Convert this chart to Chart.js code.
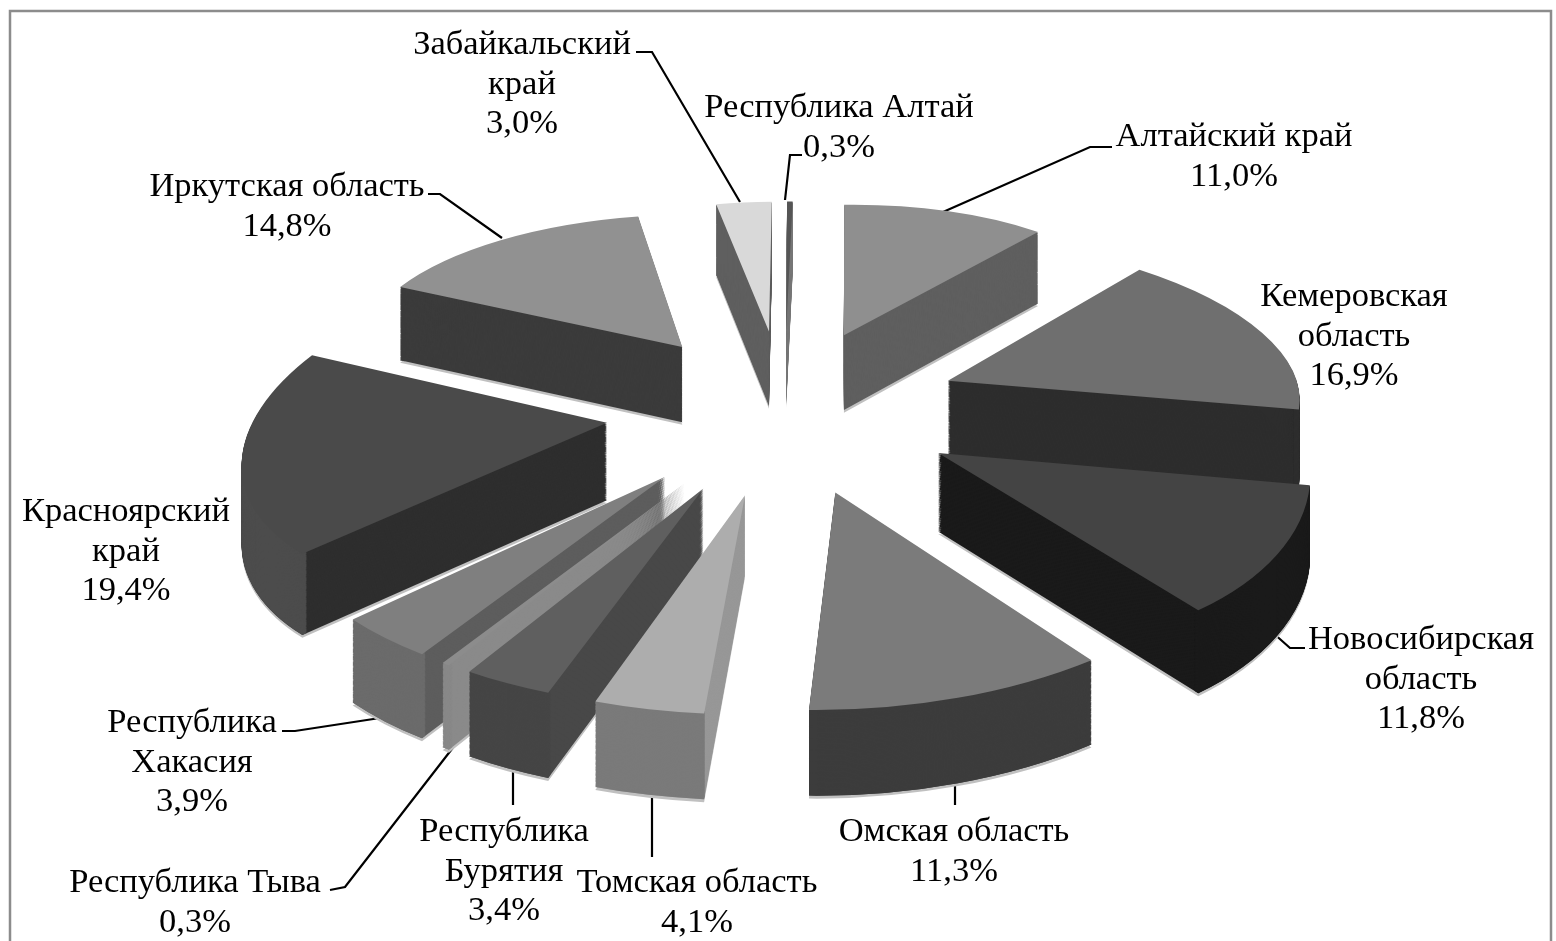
<!DOCTYPE html>
<html lang="ru">
<head>
<meta charset="utf-8">
<title>Chart</title>
<script src="https://cdn.jsdelivr.net/npm/chart.js@4/dist/chart.umd.min.js"></script>
<style>
html,body{margin:0;padding:0;background:#fff;overflow:hidden}
canvas{display:block}
</style>
</head>
<body>
<canvas id="c" width="1556" height="941"></canvas>
<script>
const regions = ['Алтайский край','Кемеровская область','Новосибирская область','Омская область','Томская область','Республика Бурятия','Республика Тыва','Республика Хакасия','Красноярский край','Иркутская область','Забайкальский край','Республика Алтай'];
const shares = [11.0,16.9,11.8,11.3,4.1,3.4,0.3,3.9,19.4,14.8,3.0,0.3];

const topColors = ['#8f8f8f','#6f6f6f','#444444','#7b7b7b','#adadad','#5f5f5f','#8c8c8c','#7f7f7f','#4a4a4a','#919191','#d9d9d9','#555555'];
const cutColors = ['#5f5f5f','#2d2d2d','#1a1a1a','#3a3a3a','#989898','#484848','#8a8a8a','#5d5d5d','#2e2e2e','#3b3b3b','#5f5f5f','#777777'];
const rimColors = ['#5f5f5f','#2d2d2d','#1a1a1a','#3c3c3c','#7a7a7a','#454545','#888888','#6b6b6b','#4c4c4c','#3b3b3b','#5f5f5f','#777777'];

// Label placement: name lines, centre x, first baseline, then the leader polyline
const labelLayout = [
 {lines:['Алтайский край'],x:1234,y:146,lead:[[1112,147],[1090,147],[943,212]]},
 {lines:['Кемеровская','область'],x:1354,y:306},
 {lines:['Новосибирская','область'],x:1421,y:649,lead:[[1305,648],[1290,648],[1272,632]]},
 {lines:['Омская область'],x:954,y:841,lead:[[955,785],[955,805]]},
 {lines:['Томская область'],x:697,y:892,lead:[[652,785],[652,857]]},
 {lines:['Республика','Бурятия'],x:504,y:841,lead:[[513,755],[513,805]]},
 {lines:['Республика Тыва'],x:195,y:892,lead:[[330,890],[345,887],[455,745]]},
 {lines:['Республика','Хакасия'],x:192,y:732,lead:[[282,731],[295,731],[393,716]]},
 {lines:['Красноярский','край'],x:126,y:521},
 {lines:['Иркутская область'],x:287,y:196,lead:[[428,194],[440,194],[502,238]]},
 {lines:['Забайкальский','край'],x:522,y:54,lead:[[636,52],[652,52],[740,202]]},
 {lines:['Республика Алтай'],x:839,y:117,lead:[[802,155],[790,155],[785,200]]}
];

// Projection of the pie plane: perspective, tilt and extrusion
const view = {cx:784, cy:408.5, A:354, B:165, shear:-8, persp:0.13, depth:77, explode:0.5, layers:70};
function project(u, w, d){
  const f = 1/(1 - view.persp*w);
  return [view.cx + (view.A*u + view.shear*w)*f, view.cy + view.B*w*f + d*view.depth*Math.sqrt(f)];
}
function drawArcAt(ctx, arc, d, fill, innerFrac){
  const s = arc.startAngle, e = arc.endAngle, r = arc.outerRadius, mid = (s+e)/2;
  const ou = view.explode*Math.cos(mid), ow = view.explode*Math.sin(mid);
  const S0 = project(ou, ow, d);
  const S1 = project(ou+Math.cos(s), ow+Math.sin(s), d);
  const S2 = project(ou+Math.cos(e), ow+Math.sin(e), d);
  const v1x=r*Math.cos(s), v1y=r*Math.sin(s), v2x=r*Math.cos(e), v2y=r*Math.sin(e);
  const det = v1x*v2y - v2x*v1y;
  const e1x=S1[0]-S0[0], e1y=S1[1]-S0[1], e2x=S2[0]-S0[0], e2y=S2[1]-S0[1];
  const m11=(e1x*v2y - e2x*v1y)/det, m12=(-e1x*v2x + e2x*v1x)/det;
  const m21=(e1y*v2y - e2y*v1y)/det, m22=(-e1y*v2x + e2y*v1x)/det;
  const tx=S0[0]-(m11*arc.x+m12*arc.y), ty=S0[1]-(m21*arc.x+m22*arc.y);
  const el = Object.create(arc);
  el.options = {backgroundColor:fill,borderColor:fill,borderWidth:0,offset:0,spacing:0,circular:true,borderAlign:'center',borderRadius:0,borderJoinStyle:'round',borderDash:[],borderDashOffset:0};
  el.innerRadius = innerFrac ? r*innerFrac : 0;
  ctx.save();
  ctx.transform(m11,m21,m12,m22,tx,ty);
  el.draw(ctx);
  ctx.restore();
}
const pie3d = {
  id:'pie3d',
  beforeDatasetsDraw(chart){
    const ctx = chart.ctx, arcs = chart.getDatasetMeta(0).data;
    // leaders go under the slices so they stop at the slice edge
    ctx.save();
    ctx.strokeStyle='#000'; ctx.lineWidth=2.2;
    labelLayout.forEach(l=>{
      if(!l.lead) return;
      ctx.beginPath();
      l.lead.forEach((p,n)=>n?ctx.lineTo(p[0],p[1]):ctx.moveTo(p[0],p[1]));
      ctx.stroke();
    });
    ctx.restore();
    const order = arcs.map((a,i)=>i).sort((i,j)=>
      Math.sin((arcs[i].startAngle+arcs[i].endAngle)/2)-Math.sin((arcs[j].startAngle+arcs[j].endAngle)/2));
    for(const i of order){
      const a = arcs[i];
      drawArcAt(ctx,a,1.035,'#c0c0c0');
      for(let k=view.layers;k>=1;k--) drawArcAt(ctx,a,k/view.layers,cutColors[i]);
      for(let k=view.layers;k>=1;k--) drawArcAt(ctx,a,k/view.layers,rimColors[i],0.985);
      drawArcAt(ctx,a,0,topColors[i]);
    }
    return false;
  },
  afterDraw(chart){
    const ctx = chart.ctx;
    ctx.save();
    ctx.strokeStyle='#8c8c8c'; ctx.lineWidth=2.5;
    ctx.beginPath(); ctx.moveTo(10,945); ctx.lineTo(10,11); ctx.lineTo(1551,11); ctx.lineTo(1551,945); ctx.stroke();
    ctx.font='34.5px "Liberation Serif"'; ctx.fillStyle='#000'; ctx.textAlign='center'; ctx.textBaseline='alphabetic';
    labelLayout.forEach((l,i)=>{
      const text=[...l.lines, shares[i].toFixed(1).replace('.',',')+'%'];
      text.forEach((t,n)=>ctx.fillText(t,l.x,l.y+n*39.5));
    });
    ctx.restore();
  }
};
new Chart(document.getElementById('c'),{
  type:'pie',
  data:{labels:regions,datasets:[{data:shares,backgroundColor:topColors,borderWidth:0}]},
  options:{responsive:false,animation:false,plugins:{legend:{display:false},tooltip:{enabled:false}},events:[]},
  plugins:[pie3d]
});
</script>
</body>
</html>
